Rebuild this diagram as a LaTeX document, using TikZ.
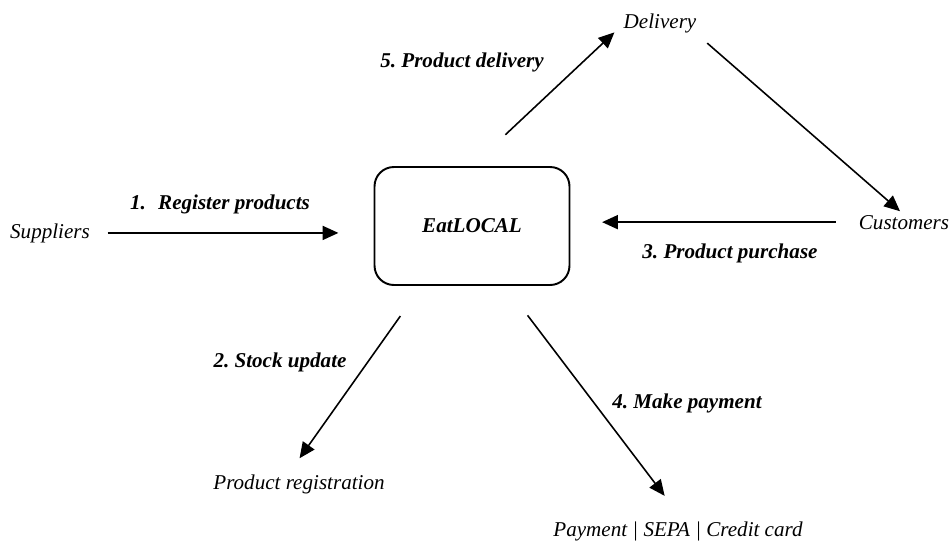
\documentclass[tikz,border=0pt]{standalone}
\usepackage{fontspec}
\setmainfont{Liberation Serif}
\usetikzlibrary{arrows.meta}

\begin{document}
\begin{tikzpicture}[>={Triangle[length=9pt,width=8pt]}, x=0.02cm, y=-0.02cm]
      % Node styles
      \tikzset{
        actor/.style={inner sep=0pt, anchor=base, font=\fontsize{12}{14}\selectfont\itshape},
        flowlabel/.style={inner sep=0pt, anchor=base, font=\fontsize{12}{14}\selectfont\bfseries\itshape},
        hub/.style={draw, line width=1.1pt, rounded corners=11pt, minimum width=3.9cm,
          minimum height=2.36cm, font=\fontsize{12}{14}\selectfont\bfseries\itshape},
        flow/.style={->, line width=0.9pt},
      }
      \useasboundingbox (0,0) rectangle (952,541);
      % Nodes
      \node (eatlocal) [hub] at (472,226) {EatLOCAL};
      \node (suppliers) [actor] at (50,238) {Suppliers};
      \node (customers) [actor] at (904,229) {Customers};
      \node (delivery) [actor] at (660,29) {Delivery};
      \node (prodreg) [actor] at (299,489) {Product registration};
      \node (payment) [actor] at (678,536) {Payment | SEPA | Credit card};
      % Flow labels
      \node (register) [flowlabel] at (220,209) {1.~ Register products};
      \node (stock) [flowlabel] at (280,367) {2.\ Stock update};
      \node (purchase) [flowlabel] at (730,258) {3.\ Product purchase};
      \node (pay) [flowlabel] at (687,408) {4.\ Make payment};
      \node (deliver) [flowlabel] at (462,67) {5.\ Product delivery};
      % Arrows
      \draw[flow, shorten <=10pt, shorten >=20pt] (suppliers.east) -- (suppliers.east -| eatlocal.west);
      \draw[flow, shorten <=13pt, shorten >=18pt] (customers.west) -- (customers.west -| eatlocal.east);
      \draw[flow, shorten <=26pt, shorten >=7pt] (eatlocal.north) -- (delivery.west);
      \draw[flow, shorten <=8pt, shorten >=3pt] (delivery.south east) -- (customers.north);
      \draw[flow, shorten <=21pt, shorten >=11pt] (eatlocal.-130) -- (prodreg.137);
      \draw[flow, shorten <=21pt, shorten >=18pt] (eatlocal.-61.5) -- (payment.60);
    \end{tikzpicture}
\end{document}
